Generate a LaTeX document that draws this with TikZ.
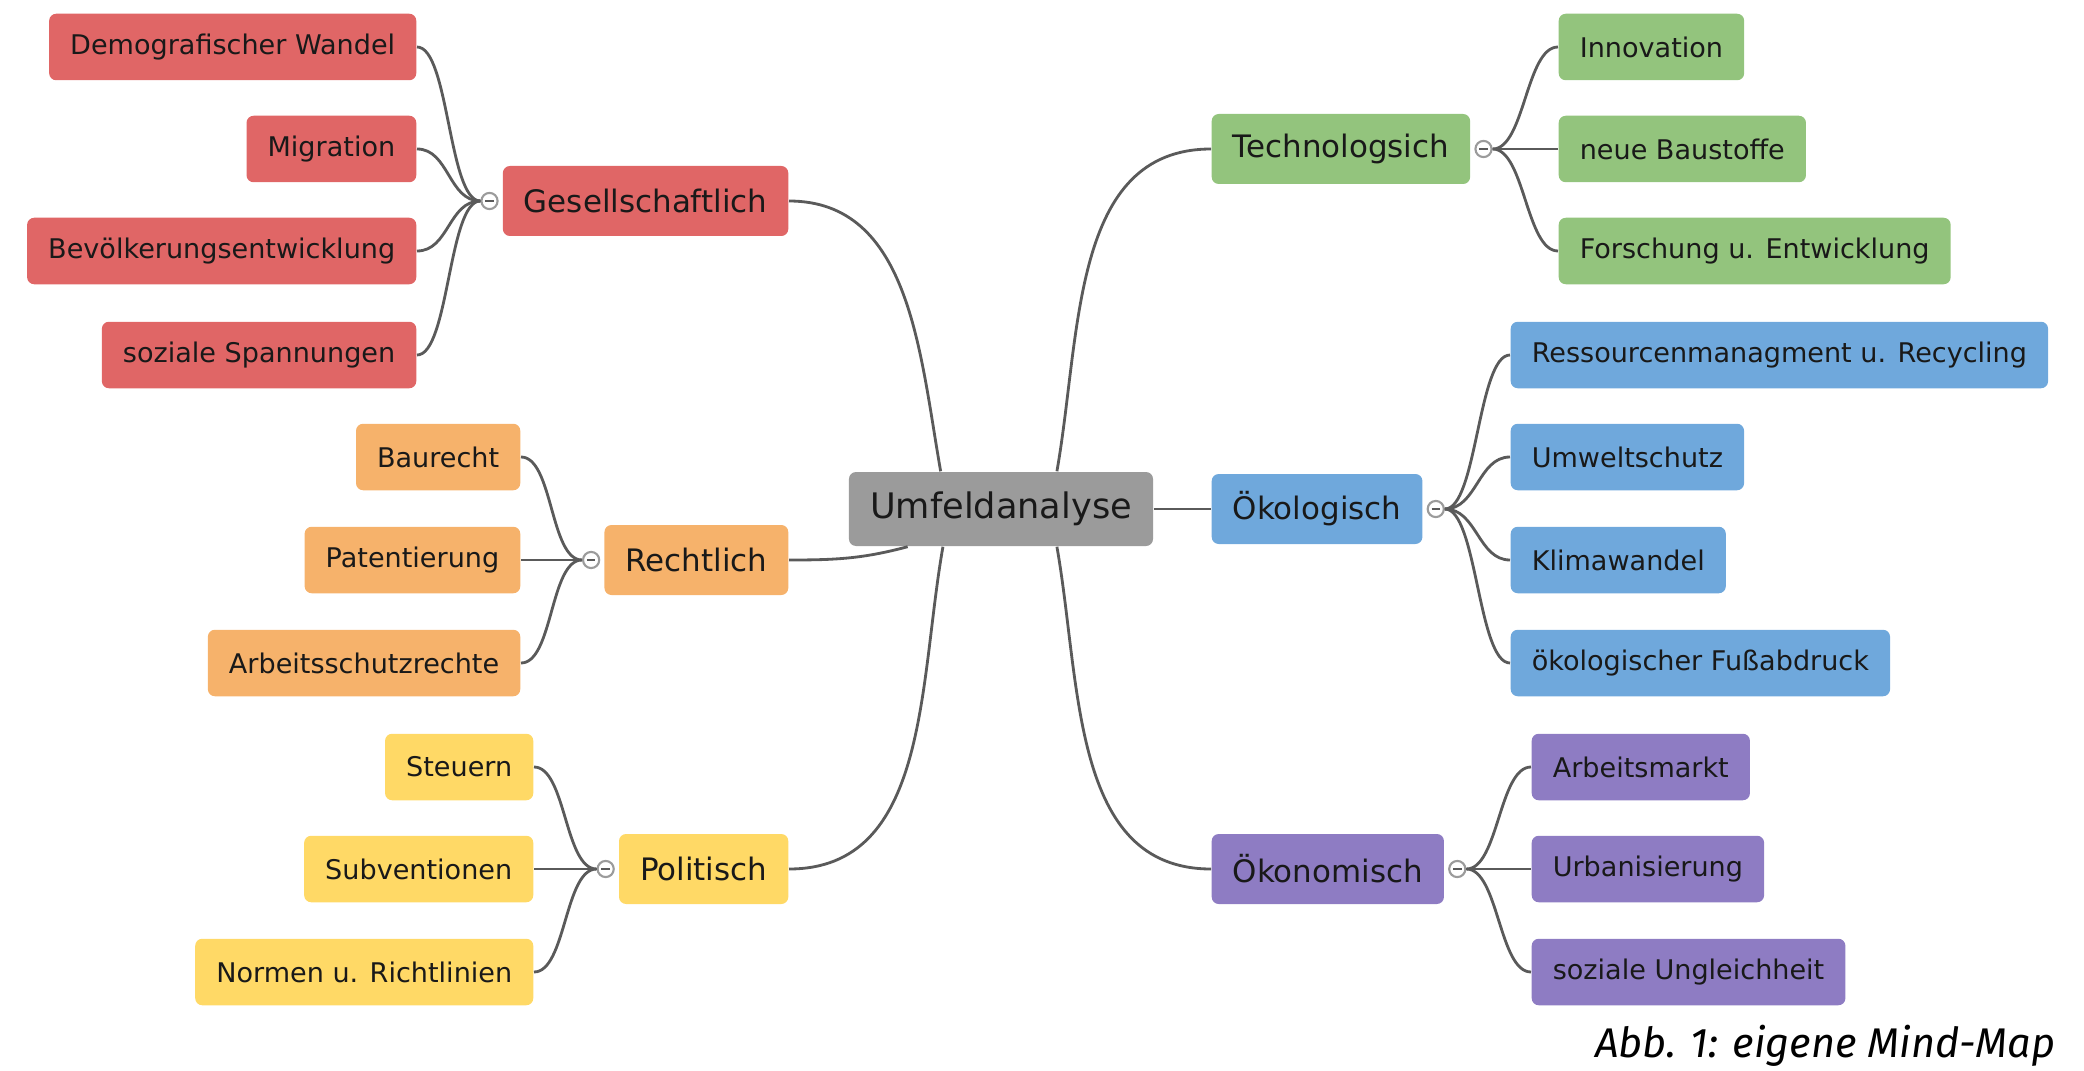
\documentclass[tikz,border=0pt]{standalone}
\usepackage{fontspec}
\setmainfont{DejaVu Sans}
\newfontfamily\capfont{Fira Sans}
\usepackage{xcolor}
\usepackage{tikz}
\usetikzlibrary{positioning}
\definecolor{MMRed}{RGB}{224,102,102}
\definecolor{MMOrange}{RGB}{246,178,107}
\definecolor{MMYellow}{RGB}{255,217,102}
\definecolor{MMGreen}{RGB}{147,196,125}
\definecolor{MMBlue}{RGB}{111,168,220}
\definecolor{MMPurple}{RGB}{142,124,195}
\definecolor{MMGray}{RGB}{155,155,155}
\definecolor{MMLine}{RGB}{90,90,90}

\begin{document}
\begin{tikzpicture}[
          box/.style={rectangle, rounded corners=2pt, inner xsep=6pt, inner ysep=0pt,
                      text=black!90},
          leaf/.style={box, minimum height=0.665cm, font=\fontsize{7.7}{9}\selectfont},
          cat/.style={box, minimum height=0.70cm, font=\fontsize{8.8}{10}\selectfont},
          toggle/.style={circle, draw=MMGray, fill=white, line width=0.6pt,
                         minimum size=4.6pt, inner sep=0pt,
                         path picture={\draw[MMLine, line width=0.6pt]
                           ([xshift=-1.2pt]path picture bounding box.center)--
                           ([xshift=1.2pt]path picture bounding box.center);}},
          link/.style={MMLine, line width=0.8pt}
        ]
        \useasboundingbox (0, 0) rectangle (20.84, 10.70);

        % Centre
        \node[box, fill=MMGray, minimum height=0.74cm,
              font=\fontsize{10}{12}\selectfont] (root) at (10.01, 5.61) {Umfeldanalyse};

        % Main branches
        \node[cat, fill=MMRed, anchor=east] (ges) at (7.89, 8.69) {Gesellschaftlich};
        \node[cat, fill=MMOrange, anchor=east] (rec) at (7.89, 5.10) {Rechtlich};
        \node[cat, fill=MMYellow, anchor=east] (pol) at (7.89, 2.01) {Politisch};
        \node[cat, fill=MMGreen, anchor=west] (tec) at (12.11, 9.21) {Technologsich};
        \node[cat, fill=MMBlue, anchor=west] (oek) at (12.11, 5.61) {Ökologisch};
        \node[cat, fill=MMPurple, anchor=west] (okn) at (12.11, 2.01) {Ökonomisch};

        \draw[link] (root.148) to[out=100, in=0] (ges.east);
        \draw[link] (root.202) to[out=195, in=0] (rec.east);
        \draw[link] (root.213) to[out=260, in=0] (pol.east);
        \draw[link] (root.34) to[out=80, in=180] (tec.west);
        \draw[link] (root.east) -- (oek.west);
        \draw[link] (root.326) to[out=280, in=180] (okn.west);

        % Collapse buttons
        \node[toggle, left=1pt of ges] (gesT) {};
        \node[toggle, left=1pt of rec] (recT) {};
        \node[toggle, left=1pt of pol] (polT) {};
        \node[toggle, right=1pt of tec] (tecT) {};
        \node[toggle, right=1pt of oek] (oekT) {};
        \node[toggle, right=1pt of okn] (oknT) {};

        % Gesellschaftlich
        \node[leaf, fill=MMRed, anchor=east] (demo) at (4.17, 10.23) {Demografischer Wandel};
        \node[leaf, fill=MMRed, anchor=east] (migr) at (4.17, 9.21) {Migration};
        \node[leaf, fill=MMRed, anchor=east] (bev) at (4.17, 8.19) {Bevölkerungsentwicklung};
        \node[leaf, fill=MMRed, anchor=east] (soz) at (4.17, 7.15) {soziale Spannungen};
        \draw[link] (gesT.west) .. controls +(-0.32,0) and +(0.32,0) .. (demo.east);
        \draw[link] (gesT.west) .. controls +(-0.32,0) and +(0.32,0) .. (migr.east);
        \draw[link] (gesT.west) .. controls +(-0.32,0) and +(0.32,0) .. (bev.east);
        \draw[link] (gesT.west) .. controls +(-0.32,0) and +(0.32,0) .. (soz.east);

        % Rechtlich
        \node[leaf, fill=MMOrange, anchor=east] (bau) at (5.21, 6.13) {Baurecht};
        \node[leaf, fill=MMOrange, anchor=east] (pat) at (5.21, 5.10) {Patentierung};
        \node[leaf, fill=MMOrange, anchor=east] (arb) at (5.21, 4.07) {Arbeitsschutzrechte};
        \draw[link] (recT.west) .. controls +(-0.32,0) and +(0.32,0) .. (bau.east);
        \draw[link] (recT.west) -- (pat.east);
        \draw[link] (recT.west) .. controls +(-0.32,0) and +(0.32,0) .. (arb.east);

        % Politisch
        \node[leaf, fill=MMYellow, anchor=east] (steu) at (5.34, 3.03) {Steuern};
        \node[leaf, fill=MMYellow, anchor=east] (subv) at (5.34, 2.01) {Subventionen};
        \node[leaf, fill=MMYellow, anchor=east] (norm) at (5.34, 0.98) {Normen u. Richtlinien};
        \draw[link] (polT.west) .. controls +(-0.32,0) and +(0.32,0) .. (steu.east);
        \draw[link] (polT.west) -- (subv.east);
        \draw[link] (polT.west) .. controls +(-0.32,0) and +(0.32,0) .. (norm.east);

        % Technologsich
        \node[leaf, fill=MMGreen, anchor=west] (inno) at (15.58, 10.23) {Innovation};
        \node[leaf, fill=MMGreen, anchor=west] (baus) at (15.58, 9.21) {neue Baustoffe};
        \node[leaf, fill=MMGreen, anchor=west] (fue) at (15.58, 8.19) {Forschung u. Entwicklung};
        \draw[link] (tecT.east) .. controls +(0.32,0) and +(-0.32,0) .. (inno.west);
        \draw[link] (tecT.east) -- (baus.west);
        \draw[link] (tecT.east) .. controls +(0.32,0) and +(-0.32,0) .. (fue.west);

        % Ökologisch
        \node[leaf, fill=MMBlue, anchor=west] (ress) at (15.10, 7.15) {Ressourcenmanagment u. Recycling};
        \node[leaf, fill=MMBlue, anchor=west] (umw) at (15.10, 6.13) {Umweltschutz};
        \node[leaf, fill=MMBlue, anchor=west] (klima) at (15.10, 5.10) {Klimawandel};
        \node[leaf, fill=MMBlue, anchor=west] (fuss) at (15.10, 4.07) {ökologischer Fußabdruck};
        \draw[link] (oekT.east) .. controls +(0.32,0) and +(-0.32,0) .. (ress.west);
        \draw[link] (oekT.east) .. controls +(0.32,0) and +(-0.32,0) .. (umw.west);
        \draw[link] (oekT.east) .. controls +(0.32,0) and +(-0.32,0) .. (klima.west);
        \draw[link] (oekT.east) .. controls +(0.32,0) and +(-0.32,0) .. (fuss.west);

        % Ökonomisch
        \node[leaf, fill=MMPurple, anchor=west] (amarkt) at (15.31, 3.03) {Arbeitsmarkt};
        \node[leaf, fill=MMPurple, anchor=west] (urban) at (15.31, 2.01) {Urbanisierung};
        \node[leaf, fill=MMPurple, anchor=west] (ungl) at (15.31, 0.98) {soziale Ungleichheit};
        \draw[link] (oknT.east) .. controls +(0.32,0) and +(-0.32,0) .. (amarkt.west);
        \draw[link] (oknT.east) -- (urban.west);
        \draw[link] (oknT.east) .. controls +(0.32,0) and +(-0.32,0) .. (ungl.west);

        % Caption
        \node[font=\capfont\itshape\fontsize{11.8}{14}\selectfont, anchor=base east]
              (caption) at (20.68, 0.13) {Abb. 1: eigene Mind-Map};
      \end{tikzpicture}
\end{document}
